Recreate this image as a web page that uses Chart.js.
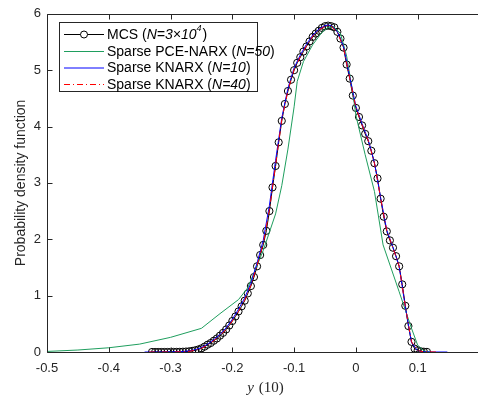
<!DOCTYPE html>
<html><head><meta charset="utf-8">
<style>html,body{margin:0;padding:0;background:#fff;overflow:hidden}#wrap{width:481px;height:403px;position:relative}</style>
<script src="https://cdn.jsdelivr.net/npm/chart.js@4/dist/chart.umd.min.js"></script>
</head><body><div id="wrap"><canvas id="c" width="481" height="403"></canvas></div>
<script>
// ---- Data ----
const mcsX = [-0.330,-0.325,-0.320,-0.315,-0.310,-0.305,-0.300,-0.295,-0.290,-0.285,
  -0.280,-0.275,-0.270,-0.265,-0.260,-0.255,-0.250,-0.245,-0.240,-0.235,
  -0.230,-0.225,-0.220,-0.215,-0.210,-0.205,-0.200,-0.195,-0.190,-0.185,
  -0.180,-0.175,-0.170,-0.165,-0.160,-0.155,-0.150,-0.145,-0.140,-0.135,
  -0.130,-0.125,-0.120,-0.115,-0.110,-0.105,-0.100,-0.095,-0.090,-0.085,
  -0.080,-0.075,-0.070,-0.065,-0.060,-0.055,-0.050,-0.045,-0.040,-0.035,
  -0.030,-0.025,-0.020,-0.015,-0.010,-0.005,0.000,0.005,0.010,0.015,
  0.020,0.025,0.030,0.035,0.040,0.045,0.050,0.055,0.060,0.065,
  0.070,0.075,0.080,0.085,0.090,0.095,0.100,0.105,0.110,0.115];
const mcsY = [0,0,0,0,0,0,0.001,0.001,0.002,0.003,
  0.005,0.008,0.012,0.02,0.03,0.045,0.065,0.095,0.13,0.16,
  0.20,0.24,0.29,0.34,0.40,0.47,0.55,0.63,0.72,0.81,
  0.91,1.04,1.17,1.33,1.52,1.72,1.90,2.15,2.50,2.92,
  3.30,3.72,4.10,4.40,4.63,4.83,5.00,5.13,5.23,5.33,
  5.42,5.51,5.59,5.65,5.70,5.75,5.78,5.79,5.78,5.76,
  5.68,5.56,5.40,5.10,4.85,4.55,4.33,4.17,4.02,3.87,
  3.74,3.57,3.35,3.08,2.72,2.40,2.14,1.98,1.85,1.70,
  1.52,1.20,0.82,0.46,0.18,0.06,0.03,0.012,0.005,0.002];

const pceX = [-0.5,-0.45,-0.40,-0.35,-0.30,-0.25,-0.22,-0.19,-0.175,-0.15,-0.13,-0.12,-0.11,-0.10,-0.095,-0.085,-0.07,-0.055,-0.045,-0.035,-0.025,-0.015,-0.005,0.0,0.015,0.03,0.044,0.07,0.09,0.10,0.11,0.12];
const pceY = [0.01,0.035,0.075,0.14,0.26,0.42,0.68,0.93,1.14,1.80,2.45,2.95,3.60,4.35,4.80,5.15,5.45,5.67,5.76,5.76,5.65,5.25,4.60,4.20,3.50,2.85,1.90,1.07,0.42,0.12,0.02,0.0];

const kn10X = [-0.342,-0.32,-0.30,-0.28,-0.27,-0.26,-0.25,-0.24,-0.23,-0.22,-0.21,-0.20,-0.19,-0.18,-0.17,-0.16,-0.15,-0.14,-0.13,-0.12,-0.11,-0.10,-0.09,-0.08,-0.07,-0.06,-0.05,-0.045,-0.04,-0.03,-0.02,-0.01,0.0,0.01,0.02,0.03,0.04,0.05,0.06,0.07,0.08,0.09,0.10,0.11,0.12,0.148];
const kn10Y = [0,0,0.002,0.01,0.02,0.04,0.08,0.14,0.22,0.31,0.43,0.58,0.76,0.96,1.22,1.58,1.98,2.60,3.40,4.15,4.68,5.04,5.27,5.46,5.62,5.73,5.79,5.80,5.79,5.68,5.42,4.88,4.36,4.05,3.76,3.36,2.74,2.16,1.86,1.52,0.80,0.17,0.02,0.003,0,0];

const kn40X = [-0.335,-0.31,-0.29,-0.28,-0.27,-0.26,-0.25,-0.24,-0.23,-0.22,-0.21,-0.20,-0.19,-0.18,-0.17,-0.16,-0.15,-0.14,-0.13,-0.12,-0.11,-0.10,-0.09,-0.08,-0.07,-0.06,-0.05,-0.045,-0.04,-0.03,-0.02,-0.01,0.0,0.01,0.02,0.03,0.04,0.05,0.06,0.07,0.08,0.09,0.10,0.11,0.13];
const kn40Y = [0,0,0.002,0.006,0.013,0.03,0.065,0.125,0.20,0.29,0.40,0.55,0.72,0.92,1.18,1.53,1.92,2.52,3.32,4.12,4.64,5.01,5.24,5.43,5.60,5.71,5.78,5.79,5.78,5.67,5.40,4.86,4.34,4.03,3.75,3.35,2.73,2.15,1.85,1.52,0.81,0.18,0.025,0.004,0];

const xTickMin = -0.5, xTickMax = 0.1944, xTickStep = 0.1;
const yTickMin = 0, yTickMax = 6, yTickStep = 1;

const COLORS = {mcs:'#000000', pce:'#1f9e5e', kn10:'#0000ff', kn40:'#ff0000', axis:'#262626'};
const legendEntries = [
  {key:'mcs', parts:[{t:'MCS ('},{t:'N=3\u00d710',i:1},{t:'4',i:1,s:1},{t:')'}]},
  {key:'pce', parts:[{t:'Sparse PCE-NARX ('},{t:'N=50',i:1},{t:')'}]},
  {key:'kn10', parts:[{t:'Sparse KNARX ('},{t:'N=10',i:1},{t:')'}]},
  {key:'kn40', parts:[{t:'Sparse KNARX ('},{t:'N=40',i:1},{t:')'}]}
];

const toPts = (xs, ys) => xs.map((x, k) => ({x: x, y: ys[k]}));
const SANS = '"Liberation Sans", Arial, Helvetica, sans-serif';

const framePlugin = {
  id: 'frame',
  afterDraw(chart) {
    const ctx = chart.ctx, a = chart.chartArea;
    const xs = chart.scales.x, ys = chart.scales.y;
    ctx.save();
    ctx.strokeStyle = COLORS.axis; ctx.lineWidth = 1;
    const L = Math.round(a.left) + 0.5, T = Math.round(a.top) + 0.5, B = Math.round(a.bottom) + 0.5, R = a.right + 2;
    ctx.beginPath();
    ctx.moveTo(R, T); ctx.lineTo(L, T); ctx.lineTo(L, B); ctx.lineTo(R, B);
    ctx.stroke();
    ctx.beginPath();
    xs.ticks.forEach(t => {
      const px = Math.round(xs.getPixelForValue(t.value)) + 0.5;
      ctx.moveTo(px, B); ctx.lineTo(px, B - 5);
      ctx.moveTo(px, T); ctx.lineTo(px, T + 5);
    });
    ys.ticks.forEach(t => {
      const py = Math.round(ys.getPixelForValue(t.value)) + 0.5;
      ctx.moveTo(L, py); ctx.lineTo(L + 5, py);
    });
    ctx.stroke();

    // y title
    ctx.fillStyle = COLORS.axis;
    ctx.font = '14px ' + SANS;
    ctx.textAlign = 'center'; ctx.textBaseline = 'middle';
    ctx.save();
    ctx.translate(21, (a.top + a.bottom) / 2);
    ctx.rotate(-Math.PI / 2);
    ctx.fillText('Probability density function', 0, 0);
    ctx.restore();

    // x title: y (10)
    ctx.textAlign = 'left'; ctx.textBaseline = 'alphabetic';
    const f1 = 'italic 15px "Liberation Serif", "DejaVu Serif", serif';
    const f2 = '15px "Liberation Serif", "DejaVu Serif", serif';
    ctx.font = f1; const w1 = ctx.measureText('y').width;
    ctx.font = f2; const w2 = ctx.measureText(' (10)').width;
    let x0 = 265 - (w1 + w2) / 2;
    ctx.font = f1; ctx.fillText('y', x0, 392);
    ctx.font = f2; ctx.fillText(' (10)', x0 + w1 + 1, 392);

    // legend
    const bx = 59.5, by = 22.5, bw = 198, bh = 69;
    ctx.fillStyle = '#ffffff';
    ctx.fillRect(bx, by, bw, bh);
    ctx.strokeStyle = COLORS.axis;
    ctx.strokeRect(bx, by, bw, bh);
    const rowY = [34, 51, 67.5, 84];
    legendEntries.forEach((e, k) => {
      const y = rowY[k] + 0.5;
      ctx.strokeStyle = COLORS[e.key];
      ctx.lineWidth = 1;
      ctx.setLineDash(e.key === 'kn40' ? [6, 3, 1, 3] : []);
      ctx.beginPath(); ctx.moveTo(64, y); ctx.lineTo(104, y); ctx.stroke();
      ctx.setLineDash([]);
      if (e.key === 'mcs') {
        ctx.beginPath(); ctx.arc(84, y, 3.5, 0, Math.PI * 2);
        ctx.fillStyle = '#fff'; ctx.fill(); ctx.stroke();
      }
      let tx = 107;
      ctx.fillStyle = '#000';
      ctx.textBaseline = 'middle';
      e.parts.forEach(p => {
        const size = p.s ? 9 : 14;
        ctx.font = (p.i ? 'italic ' : '') + size + 'px ' + SANS;
        ctx.fillText(p.t, tx, p.s ? y - 6 : y + 0.5);
        tx += ctx.measureText(p.t).width + (p.s ? 1 : 0);
      });
    });
    ctx.restore();
  }
};

new Chart(document.getElementById('c'), {
  type: 'scatter',
  data: {
    datasets: [
      {label:'MCS', data: toPts(mcsX, mcsY), showLine:true, borderColor:COLORS.mcs, borderWidth:1,
       pointStyle:'circle', pointRadius:3.6, pointBorderColor:'#000', pointBackgroundColor:'rgba(0,0,0,0)', pointBorderWidth:1, order:4},
      {label:'Sparse PCE-NARX', data: toPts(pceX, pceY), showLine:true, borderColor:COLORS.pce, borderWidth:1, pointRadius:0, order:3},
      {label:'Sparse KNARX 10', data: toPts(kn10X, kn10Y), showLine:true, borderColor:COLORS.kn10, borderWidth:1, pointRadius:0, order:2},
      {label:'Sparse KNARX 40', data: toPts(kn40X, kn40Y), showLine:true, borderColor:COLORS.kn40, borderWidth:1, borderDash:[6,3,1,3], pointRadius:0, order:1}
    ]
  },
  options: {
    responsive: false, animation: false, devicePixelRatio: 1,
    layout: {padding: {top: 9, right: 0, left: 0, bottom: 0}},
    plugins: {legend: {display: false}, tooltip: {enabled: false}},
    elements: {line: {tension: 0}},
    scales: {
      x: {
        type: 'linear', min: xTickMin, max: xTickMax,
        grid: {display: false, drawTicks: false}, border: {display: false},
        ticks: {stepSize: xTickStep, includeBounds: false, color: COLORS.axis, font: {family: SANS, size: 13}, padding: 9, maxRotation: 0, autoSkip: false},
        afterFit(s) { s.height = 51; }
      },
      y: {
        type: 'linear', min: yTickMin, max: yTickMax,
        grid: {display: false, drawTicks: false}, border: {display: false},
        ticks: {stepSize: yTickStep, color: COLORS.axis, font: {family: SANS, size: 13}, padding: 6},
        afterFit(s) { s.width = 47; }
      }
    }
  },
  plugins: [framePlugin]
});
</script>
</body></html>
